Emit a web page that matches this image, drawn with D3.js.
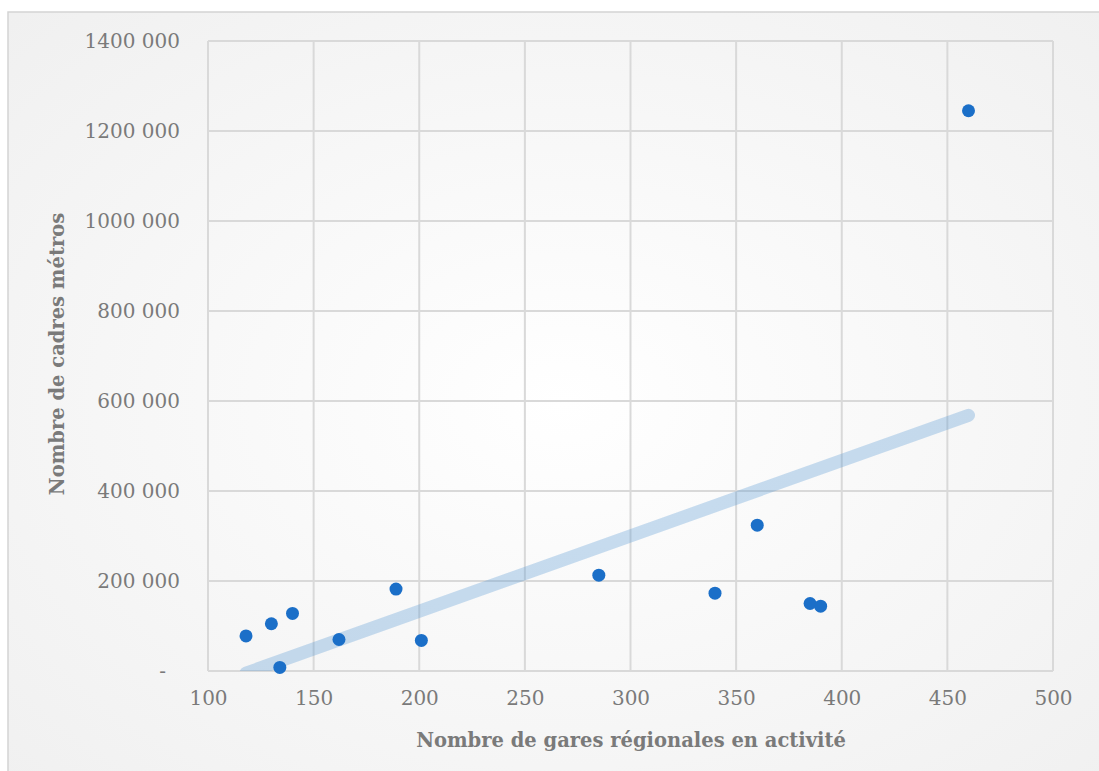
<!DOCTYPE html>
<html><head><meta charset="utf-8">
<script src="https://cdn.jsdelivr.net/npm/d3@7/dist/d3.min.js"></script>
<style>html,body{margin:0;padding:0;background:#fff;}</style>
</head><body>
<svg id="c" width="1099" height="771"></svg>
<script>
const garesX = [118, 130, 140, 134, 162, 189, 201, 285, 340, 360, 385, 390, 460];
const cadresY = [78000, 105000, 128000, 8000, 70000, 182000, 68000, 213000, 173000, 324000, 150000, 144000, 1245000];
const xTicks = [100, 150, 200, 250, 300, 350, 400, 450, 500];
const yTicks = [0, 200000, 400000, 600000, 800000, 1000000, 1200000, 1400000];
const xTitle = "Nombre de gares régionales en activité";
const yTitle = "Nombre de cadres métros";

const svg = d3.select("#c");
const W = 1099, H = 771;
const m = {l: 208, r: 1053, t: 41, b: 671};
const font = "'DejaVu Serif', serif";
const grey = "#7a7a7a";

const defs = svg.append("defs");
const rg = defs.append("radialGradient").attr("id","bg").attr("cx","50%").attr("cy","50%").attr("r","70%");
rg.append("stop").attr("offset","0%").attr("stop-color","#ffffff");
rg.append("stop").attr("offset","100%").attr("stop-color","#f0f0f0");
defs.append("clipPath").attr("id","clip").append("rect")
  .attr("x", m.l).attr("y", m.t).attr("width", m.r - m.l).attr("height", m.b - m.t);

svg.append("rect").attr("x",0).attr("y",0).attr("width",W).attr("height",H).attr("fill","#fff");
svg.append("rect").attr("x",8).attr("y",12).attr("width",W+10).attr("height",H+10)
  .attr("fill","url(#bg)").attr("stroke","#d4d4d4").attr("stroke-width",1.5);

const x = d3.scaleLinear().domain([100, 500]).range([m.l, m.r]);
const y = d3.scaleLinear().domain([0, 1400000]).range([m.b, m.t]);

// grid
const g = svg.append("g");
g.selectAll(".vx").data(xTicks).join("line")
  .attr("x1", d => x(d)).attr("x2", d => x(d)).attr("y1", m.t).attr("y2", m.b)
  .attr("stroke", "#d9d9d9").attr("stroke-width", 2);
g.selectAll(".hy").data(yTicks).join("line")
  .attr("x1", m.l).attr("x2", m.r).attr("y1", d => y(d)).attr("y2", d => y(d))
  .attr("stroke", "#d9d9d9").attr("stroke-width", 2);

const tickSize = "20px";
const xAxis = d3.axisBottom(x).tickValues(xTicks).tickSize(0).tickPadding(20).tickFormat(d3.format("d"));
const xa = svg.append("g").attr("transform", `translate(0,${m.b})`).call(xAxis);
xa.select(".domain").remove();
xa.selectAll("text").attr("fill", grey).style("font-family", font).style("font-size", tickSize);

const fmtY = d => {
  if (d === 0) return "-";
  const th = Math.floor(d / 1000), rest = d % 1000;
  return th + " " + String(rest).padStart(3, "0");
};
const yAxis = d3.axisLeft(y).tickValues(yTicks).tickSize(0).tickPadding(28).tickFormat(fmtY);
const ya = svg.append("g").attr("transform", `translate(${m.l},0)`).call(yAxis);
ya.select(".domain").remove();
ya.selectAll("text").attr("fill", grey).style("font-family", font).style("font-size", tickSize);
ya.selectAll(".tick").filter(d => d === 0).select("text").attr("dx", "-14");

// trendline (least squares)
const n = garesX.length;
const mx = d3.mean(garesX), my = d3.mean(cadresY);
let sxy = 0, sxx = 0;
for (let i = 0; i < n; i++) { sxy += (garesX[i]-mx)*(cadresY[i]-my); sxx += (garesX[i]-mx)**2; }
const slope = sxy / sxx, icpt = my - slope*mx;
const x0 = d3.min(garesX), x1 = d3.max(garesX);
svg.append("g").attr("clip-path","url(#clip)").append("line")
  .attr("x1", x(x0)).attr("y1", y(icpt + slope*x0))
  .attr("x2", x(x1)).attr("y2", y(icpt + slope*x1))
  .attr("stroke", "rgb(91,155,213)").attr("stroke-opacity", 0.33)
  .attr("stroke-width", 13).attr("stroke-linecap", "round");

// points
svg.append("g").selectAll("circle").data(garesX.map((v,i)=>[v, cadresY[i]])).join("circle")
  .attr("cx", d => x(d[0])).attr("cy", d => y(d[1])).attr("r", 6.5)
  .attr("fill", "#1b6fc8");

// titles
svg.append("text").attr("x", 631).attr("y", 747).attr("text-anchor","middle")
  .attr("fill", grey).style("font-family", font).style("font-weight","bold").style("font-size","19.5px")
  .text(xTitle);
svg.append("text").attr("transform", "translate(64,354) rotate(-90)").attr("text-anchor","middle")
  .attr("fill", grey).style("font-family", font).style("font-weight","bold").style("font-size","19.5px")
  .text(yTitle);
</script>
</body></html>
